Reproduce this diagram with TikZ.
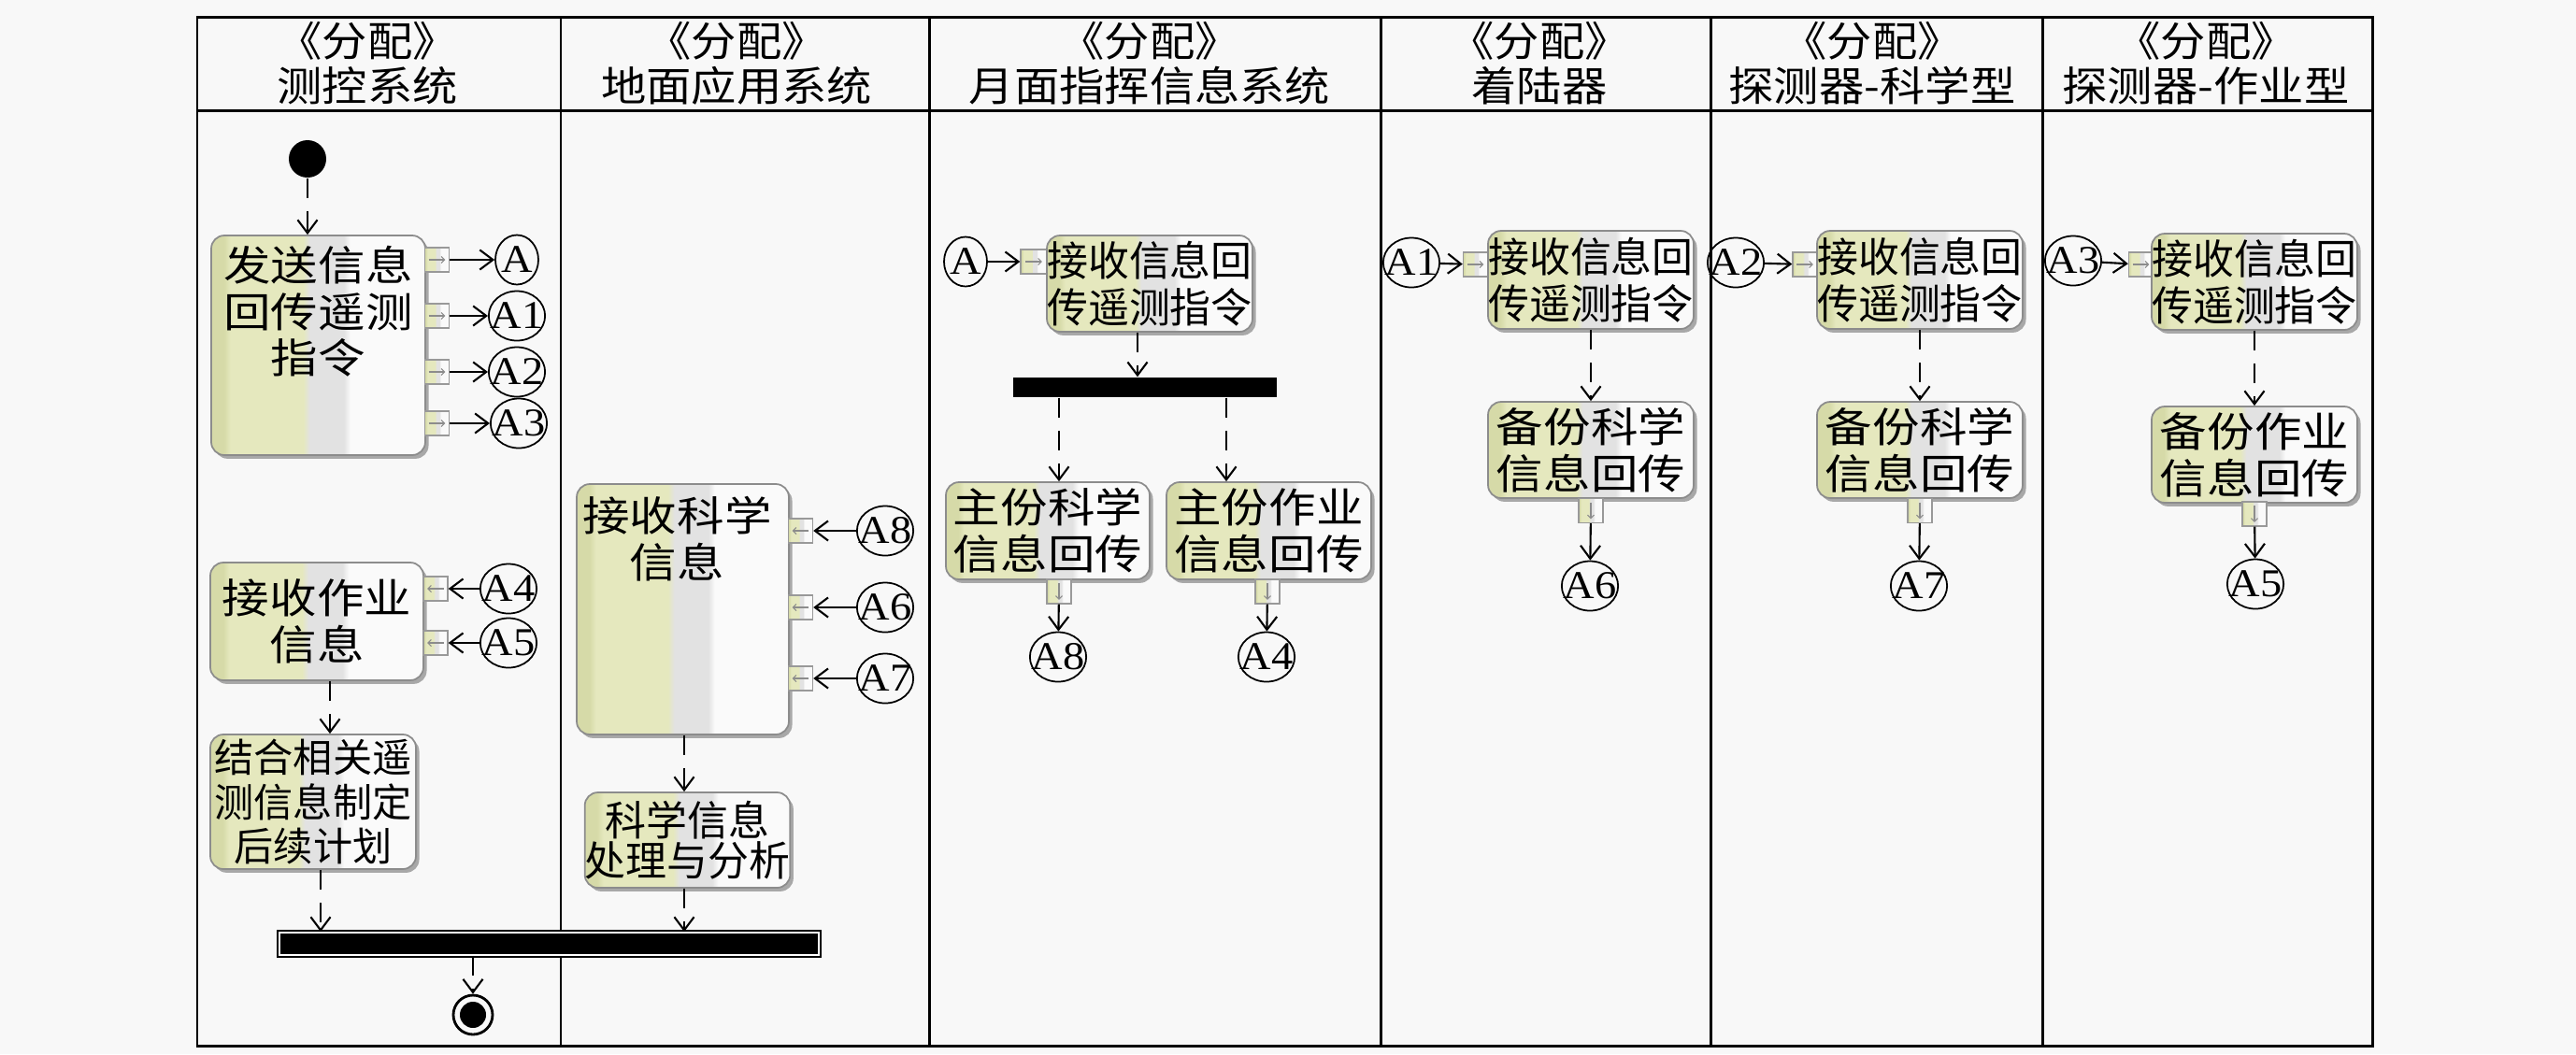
\documentclass[tikz,border=0pt]{standalone}
\usepackage{fontspec}
\setmainfont{Liberation Serif}[FakeStretch=1.1]
\newfontfamily\cjk{Noto Sans CJK SC}[FakeStretch=1.1]
\newfontfamily\cjkwide{Noto Sans CJK SC}[FakeStretch=1.15]
\newfontfamily\cjknarrow{Noto Sans CJK SC}[FakeStretch=1.0]
\usepackage{tikz}
\usetikzlibrary{calc,positioning,shapes.geometric,shadows,arrows.meta}
\definecolor{bgcol}{RGB}{248,248,248}
\definecolor{actdark}{RGB}{214,218,168}
\definecolor{actyel}{RGB}{229,232,190}
\definecolor{actgray}{RGB}{226,226,226}
\definecolor{actwhite}{RGB}{250,250,250}
\pgfdeclarehorizontalshading{actshade}{100bp}{color(0bp)=(actdark); color(28bp)=(actdark); color(29.5bp)=(actyel); color(46.5bp)=(actyel); color(48bp)=(actgray); color(56bp)=(actgray); color(57.5bp)=(actwhite); color(100bp)=(actwhite)}
\newcommand\lanefont{\cjk\fontsize{12.5}{13.7}\selectfont}
\newcommand\actfont{\cjkwide\fontsize{12.5}{14.2}\selectfont}
\newcommand\narrowactfont{\cjknarrow\fontsize{12.5}{14.2}\selectfont}
\newcommand\midactfont{\cjknarrow\fontsize{12.5}{12.3}\selectfont}
\newcommand\smallactfont{\cjknarrow\fontsize{12}{13.4}\selectfont}
\tikzstyle{lane}=[draw, line width=0.85pt]
\tikzstyle{lanehead}=[font=\lanefont, align=center, inner sep=0pt]
\tikzstyle{actbox}=[draw=black!45, line width=0.5pt, rounded corners=4pt, shading=actshade, drop shadow={shadow xshift=1pt, shadow yshift=-1.1pt, fill=black!55, opacity=0.6}, inner sep=0pt, align=center, font=\actfont]
\tikzstyle{acttext}=[font=\actfont, align=center, inner sep=0pt]
\tikzstyle{portbox}=[draw=black!40, line width=0.4pt, shading=actshade, inner sep=0pt, minimum width=0.26cm, minimum height=0.26cm]
\tikzstyle{portR}=[portbox, path picture={\draw[black!45, line width=0.3pt, -{Straight Barb[length=1pt,width=2pt]}] ([xshift=-2.5pt]path picture bounding box.center) -- ([xshift=2.5pt]path picture bounding box.center);}]
\tikzstyle{portL}=[portbox, path picture={\draw[black!45, line width=0.3pt, -{Straight Barb[length=1pt,width=2pt]}] ([xshift=2.5pt]path picture bounding box.center) -- ([xshift=-2.5pt]path picture bounding box.center);}]
\tikzstyle{portD}=[portbox, path picture={\draw[black!45, line width=0.3pt, -{Straight Barb[length=1pt,width=2pt]}] ([yshift=2.5pt]path picture bounding box.center) -- ([yshift=-2.5pt]path picture bounding box.center);}]
\tikzstyle{conn}=[ellipse, draw, line width=0.5pt, inner xsep=-2pt, inner ysep=0pt, minimum width=0.46cm, minimum height=0.53cm, font=\fontsize{12}{12}\selectfont]
\tikzstyle{startnode}=[circle, fill=black, minimum size=0.40cm, inner sep=0pt]
\tikzstyle{finalnode}=[circle, draw, line width=0.8pt, minimum size=0.42cm, inner sep=0pt, path picture={\fill (path picture bounding box.center) circle (0.14cm);}]
\tikzstyle{joinbar}=[draw=black, line width=0.5pt, double=white, double distance=0.7pt, fill=black, inner sep=0pt]
\tikzstyle{forkbar}=[fill=black, inner sep=0pt]
\tikzstyle{ctrl}=[draw, line width=0.6pt, dash pattern=on 6pt off 4pt, -{Straight Barb[length=4pt,width=6pt]}]
\tikzstyle{flow}=[draw, line width=0.6pt, -{Straight Barb[length=4pt,width=6pt]}]

\begin{document}
\begin{tikzpicture}
\fill[bgcol] (0,0) rectangle (27.56,-11.28);
\useasboundingbox (0,0) rectangle (27.56,-11.28);
% swimlanes
\draw[lane] (2.11,-0.18) rectangle (25.38,-11.19);
\draw[lane] (2.11,-1.18) -- (25.38,-1.18);
\foreach \x in {6.00,9.94,14.77,18.30,21.85}
  \draw[lane] (\x,-0.18) -- (\x,-11.19);
\node[lanehead] (h1) at (3.93,-0.68) {《分配》\\测控系统};
\node[lanehead] (h2) at (7.88,-0.68) {《分配》\\地面应用系统};
\node[lanehead] (h3) at (12.30,-0.68) {《分配》\\月面指挥信息系统};
\node[lanehead] (h4) at (16.47,-0.68) {《分配》\\着陆器};
\node[lanehead] (h5) at (20.03,-0.68) {《分配》\\探测器-科学型};
\node[lanehead] (h6) at (23.60,-0.68) {《分配》\\探测器-作业型};

% 测控系统
\node[startnode] (start) at (3.29,-1.70) {};
\node[actbox, minimum width=2.29cm, minimum height=2.35cm] (b1) at (3.405,-3.695) {};
\node[acttext, below=0.11cm of b1.north] (t1) {发送信息\\回传遥测\\指令};
\node[portR] (p1) at (4.675,-2.78) {};
\node[portR] (p2) at (4.675,-3.38) {};
\node[portR] (p3) at (4.675,-3.98) {};
\node[portR] (p4) at (4.675,-4.53) {};
\node[conn] (cA) at (5.53,-2.78) {A};
\node[conn] (cA1) at (5.53,-3.38) {A1};
\node[conn] (cA2) at (5.53,-3.98) {A2};
\node[conn] (cA3) at (5.55,-4.53) {A3};
\node[actbox, minimum width=2.28cm, minimum height=1.26cm] (b2) at (3.39,-6.65) {接收作业\\信息};
\node[portL] (p5) at (4.66,-6.30) {};
\node[portL] (p6) at (4.66,-6.88) {};
\node[conn] (cA4b) at (5.44,-6.30) {A4};
\node[conn] (cA5b) at (5.44,-6.88) {A5};
\node[actbox, font=\smallactfont, minimum width=2.20cm, minimum height=1.44cm] (b3) at (3.35,-8.58) {结合相关遥\\测信息制定\\后续计划};
\node[joinbar, minimum width=5.77cm, minimum height=0.24cm] (join) at (5.875,-10.10) {};
\node[finalnode] (final) at (5.06,-10.86) {};

% 地面应用系统
\node[actbox, minimum width=2.27cm, minimum height=2.68cm] (b4) at (7.305,-6.52) {};
\node[acttext, below=0.13cm of b4.north, xshift=-0.06cm] (t4) {接收科学\\信息};
\node[portL] (p7) at (8.565,-5.68) {};
\node[portL] (p8) at (8.565,-6.50) {};
\node[portL] (p9) at (8.565,-7.26) {};
\node[conn] (cA8b) at (9.47,-5.68) {A8};
\node[conn] (cA6b) at (9.47,-6.50) {A6};
\node[conn] (cA7b) at (9.47,-7.26) {A7};
\node[actbox, font=\midactfont, minimum width=2.19cm, minimum height=1.02cm] (b5) at (7.355,-8.99) {科学信息\\处理与分析};

% 月面指挥信息系统
\node[conn] (cAm) at (10.33,-2.80) {A};
\node[portR, minimum width=0.28cm] (p10) at (11.06,-2.80) {};
\node[actbox, font=\narrowactfont, minimum width=2.20cm, minimum height=1.03cm] (b6) at (12.30,-3.035) {接收信息回\\传遥测指令};
\node[forkbar, minimum width=2.82cm, minimum height=0.21cm] (fork) at (12.25,-4.145) {};
\node[actbox, minimum width=2.18cm, minimum height=1.04cm] (b7) at (11.21,-5.68) {主份科学\\信息回传};
\node[actbox, minimum width=2.19cm, minimum height=1.04cm] (b8) at (13.575,-5.68) {主份作业\\信息回传};
\node[portD] (p11) at (11.33,-6.33) {};
\node[portD] (p12) at (13.56,-6.33) {};
\node[conn] (cA8) at (11.32,-7.03) {A8};
\node[conn] (cA4) at (13.55,-7.03) {A4};

% 着陆器
\node[conn] (cA1m) at (15.10,-2.81) {A1};
\node[portR] (p13) at (15.785,-2.83) {};
\node[actbox, font=\narrowactfont, minimum width=2.20cm, minimum height=1.05cm] (b9) at (17.02,-2.995) {接收信息回\\传遥测指令};
\node[actbox, minimum width=2.20cm, minimum height=1.03cm] (b10) at (17.02,-4.815) {备份科学\\信息回传};
\node[portD] (p14) at (17.02,-5.465) {};
\node[conn] (cA6) at (17.01,-6.27) {A6};

% 探测器-科学型
\node[conn] (cA2m) at (18.57,-2.81) {A2};
\node[portR] (p15) at (19.31,-2.83) {};
\node[actbox, font=\narrowactfont, minimum width=2.20cm, minimum height=1.05cm] (b11) at (20.54,-2.995) {接收信息回\\传遥测指令};
\node[actbox, minimum width=2.20cm, minimum height=1.03cm] (b12) at (20.54,-4.815) {备份科学\\信息回传};
\node[portD] (p16) at (20.54,-5.465) {};
\node[conn] (cA7) at (20.53,-6.27) {A7};

% 探测器-作业型
\node[conn] (cA3m) at (22.18,-2.79) {A3};
\node[portR] (p17) at (22.905,-2.83) {};
\node[actbox, font=\narrowactfont, minimum width=2.20cm, minimum height=1.03cm] (b13) at (24.12,-3.015) {接收信息回\\传遥测指令};
\node[actbox, minimum width=2.20cm, minimum height=1.03cm] (b14) at (24.12,-4.865) {备份作业\\信息回传};
\node[portD] (p18) at (24.12,-5.50) {};
\node[conn] (cA5) at (24.13,-6.25) {A5};

% control flows
\draw[ctrl] (start) -- (start |- b1.north);
\draw[ctrl] (3.53,0 |- b2.south) -- (3.53,0 |- b3.north);
\draw[ctrl] (3.43,0 |- b3.south) -- (3.43,0 |- join.north);
\draw[ctrl] (7.32,0 |- b4.south) -- (7.32,0 |- b5.north);
\draw[ctrl] (7.32,0 |- b5.south) -- (7.32,0 |- join.north);
\draw[ctrl] (final |- join.south) -- (final);
\draw[ctrl] (12.17,0 |- b6.south) -- (12.17,0 |- fork.north);
\draw[ctrl] (p11 |- fork.south) -- (p11 |- b7.north);
\draw[ctrl] (13.12,0 |- fork.south) -- (13.12,0 |- b8.north);
\draw[ctrl] (b9.south) -- (b10.north);
\draw[ctrl] (b11.south) -- (b12.north);
\draw[ctrl] (b13.south) -- (b14.north);

% object flows
\draw[flow] (p1) -- (cA);
\draw[flow] (p2) -- (cA1);
\draw[flow] (p3) -- (cA2);
\draw[flow] (p4) -- (cA3);
\draw[flow] (cA4b) -- (p5);
\draw[flow] (cA5b) -- (p6);
\draw[flow] (cA8b) -- (p7);
\draw[flow] (cA6b) -- (p8);
\draw[flow] (cA7b) -- (p9);
\draw[flow] (cAm) -- (p10);
\draw[flow] (p11) -- (cA8);
\draw[flow] (p12) -- (cA4);
\draw[flow] (cA1m) -- (p13);
\draw[flow] (p14) -- (cA6);
\draw[flow] (cA2m) -- (p15);
\draw[flow] (p16) -- (cA7);
\draw[flow] (cA3m) -- (p17);
\draw[flow] (p18) -- (cA5);
\end{tikzpicture}
\end{document}
